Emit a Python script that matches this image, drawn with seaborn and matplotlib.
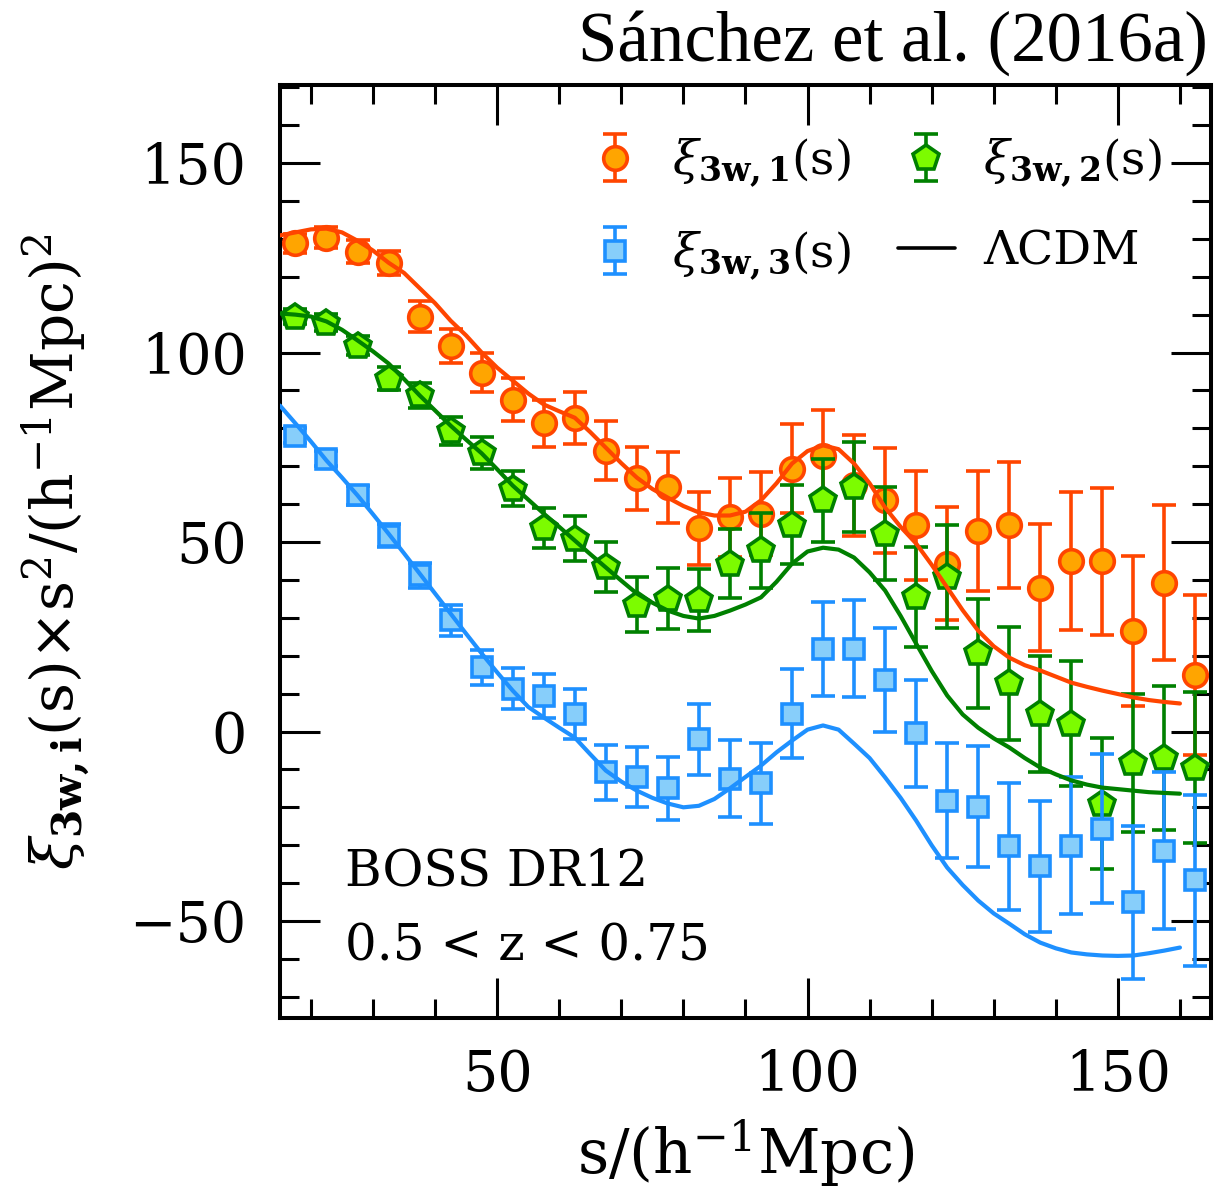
import matplotlib
matplotlib.use("Agg")
import matplotlib.pyplot as plt
from matplotlib.lines import Line2D
from matplotlib.ticker import MultipleLocator
import seaborn as sns

# Separation bins (h^-1 Mpc)
s = [17.5, 22.5, 27.5, 32.5, 37.5, 42.5, 47.5, 52.5, 57.5, 62.5,
     67.5, 72.5, 77.5, 82.5, 87.5, 92.5, 97.5, 102.5, 107.5, 112.5,
     117.5, 122.5, 127.5, 132.5, 137.5, 142.5, 147.5, 152.5, 157.5, 162.5]

# Measured wedges  s^2 * xi_{3w,i}(s)
xi1 = [128.8, 130.3, 126.6, 123.7, 109.5, 101.8, 94.7, 87.6, 81.3, 82.8,
       74.1, 66.8, 64.4, 53.6, 56.5, 57.5, 69.4, 72.8, 65.0, 61.0,
       54.4, 44.3, 53.0, 54.4, 38.0, 45.1, 44.9, 26.6, 39.3, 15.0]
err1 = [2.5, 2.8, 3.0, 3.2, 4.0, 4.5, 5.1, 5.6, 6.1, 6.9,
        7.8, 8.3, 9.4, 9.6, 10.5, 11.0, 11.8, 12.1, 13.3, 13.9,
        14.4, 15.0, 15.8, 16.6, 16.8, 18.2, 19.4, 19.8, 20.4, 21.1]

xi2 = [109.5, 107.9, 101.8, 93.1, 88.7, 79.4, 73.6, 64.1, 53.8, 50.9,
       43.3, 33.5, 35.1, 34.8, 44.3, 47.8, 54.6, 61.0, 64.6, 52.2,
       35.6, 40.9, 20.6, 12.7, 4.7, 2.1, -19.0, -8.2, -6.9, -9.5]
err2 = [2.0, 2.2, 2.5, 3.0, 3.3, 3.7, 4.2, 4.7, 5.3, 5.9,
        6.6, 7.3, 8.0, 8.2, 9.1, 9.8, 10.4, 11.0, 11.9, 12.3,
        13.2, 13.7, 14.5, 15.0, 15.3, 16.6, 17.3, 18.2, 19.0, 20.0]

xi3 = [78.1, 72.0, 62.3, 51.7, 41.2, 29.3, 16.9, 11.3, 9.5, 4.7,
       -10.8, -12.1, -15.0, -2.1, -12.4, -13.7, 4.7, 21.9, 21.9, 13.7,
       -0.5, -18.2, -19.8, -30.3, -35.6, -30.1, -25.6, -45.1, -31.4, -39.3]
err3 = [2.0, 2.0, 2.5, 3.0, 3.2, 4.0, 4.6, 5.4, 5.8, 6.6,
        7.3, 7.9, 8.4, 9.4, 10.2, 10.6, 11.7, 12.4, 12.8, 13.7,
        14.1, 15.2, 16.0, 16.8, 17.4, 18.1, 19.7, 20.2, 20.8, 22.6]

# LambdaCDM model predictions
s_model = [15.0, 17.5, 20.0, 22.5, 25.0, 27.5, 30.0, 32.5, 35.0, 37.5,
           40.0, 42.5, 45.0, 47.5, 50.0, 52.5, 55.0, 57.5, 60.0, 62.5,
           65.0, 67.5, 70.0, 72.5, 75.0, 77.5, 80.0, 82.5, 85.0, 87.5,
           90.0, 92.5, 95.0, 97.5, 100.0, 102.5, 105.0, 107.5, 110.0, 112.5,
           115.0, 117.5, 120.0, 122.5, 125.0, 127.5, 130.0, 132.5, 135.0, 137.5,
           140.0, 142.5, 145.0, 147.5, 150.0, 152.5, 155.0, 157.5, 160.0]
model1 = [130.9, 131.7, 132.5, 132.7, 131.7, 129.5, 126.9, 123.7, 121.0, 117.0,
          113.0, 108.4, 104.5, 100.0, 96.0, 92.6, 89.2, 86.3, 84.5, 82.8,
          79.0, 74.9, 70.8, 67.0, 64.0, 61.7, 59.5, 57.8, 57.0, 57.0,
          58.0, 61.0, 65.5, 70.7, 74.0, 75.5, 74.5, 70.7, 65.5, 59.1,
          54.0, 49.6, 44.0, 38.0, 32.0, 26.6, 22.5, 19.5, 17.5, 16.1,
          14.5, 12.9, 11.8, 10.8, 9.9, 9.0, 8.3, 7.8, 7.4]
model2 = [110.3, 110.0, 109.5, 108.2, 106.0, 103.2, 100.3, 97.1, 93.0, 88.7,
          84.7, 80.7, 77.0, 73.4, 69.2, 64.9, 61.2, 57.5, 54.0, 50.4,
          46.8, 43.3, 39.8, 36.4, 34.0, 31.9, 30.5, 29.8, 30.5, 31.9,
          33.5, 35.4, 39.5, 44.3, 47.5, 48.5, 48.0, 45.9, 42.0, 37.2,
          30.5, 23.2, 16.0, 9.5, 4.5, 1.0, -1.8, -4.2, -7.0, -9.5,
          -11.3, -12.9, -14.0, -14.8, -15.2, -15.6, -16.0, -16.2, -16.4]
model3 = [86.0, 81.3, 76.5, 71.5, 67.0, 62.3, 57.3, 52.2, 47.0, 41.7,
          36.4, 31.1, 25.8, 20.6, 15.6, 10.8, 6.5, 3.7, 1.0, -1.6,
          -6.0, -10.3, -13.2, -15.6, -17.5, -19.0, -20.0, -19.6, -17.8, -15.0,
          -12.0, -9.0, -5.5, -2.4, 0.5, 1.6, 0.5, -3.2, -7.0, -12.1,
          -17.5, -23.5, -30.0, -35.9, -40.5, -44.6, -48.0, -50.7, -53.5, -55.7,
          -57.2, -58.3, -58.8, -59.1, -59.2, -59.1, -58.5, -57.8, -57.0]

labels = [r"$\xi_{\mathbf{3w,1}}(\mathrm{s})$",
          r"$\xi_{\mathbf{3w,2}}(\mathrm{s})$",
          r"$\xi_{\mathbf{3w,3}}(\mathrm{s})$"]

sns.set_theme(style="ticks")
plt.rcParams["font.family"] = ["DejaVu Serif"]
plt.rcParams["mathtext.fontset"] = "dejavuserif"
plt.rcParams["axes.edgecolor"] = "black"
plt.rcParams["xtick.color"] = "black"
plt.rcParams["ytick.color"] = "black"
plt.rcParams["text.color"] = "black"
plt.rcParams["axes.labelcolor"] = "black"

fig = plt.figure(figsize=(12.14, 11.90), dpi=100)
ax = fig.add_axes([0.2306, 0.1445, 0.7669, 0.7841])

styles = [
    (xi1, err1, "o", "#FFA500", "#FF4500", 17),
    (xi2, err2, "p", "#7CFC00", "#008000", 19),
    (xi3, err3, "s", "#87CEFA", "#1E90FF", 15),
]
handles = []
for k, (y, e, mk, fc, ec, ms) in enumerate(styles):
    h = ax.errorbar(s, y, yerr=e, fmt=mk, ms=ms, mfc=fc, mec=ec, mew=2.6,
                    ecolor=ec, elinewidth=2.6, capsize=8.5, capthick=2.6,
                    zorder=2 + k)
    handles.append(h)

line_colors = ["#FF4500", "#008000", "#1E90FF"]
for m, c in zip([model1, model2, model3], line_colors):
    sns.lineplot(x=s_model, y=m, color=c, lw=3.0, ax=ax, zorder=6)

lcdm = Line2D([], [], color="black", lw=2.6)

ax.set_xlim(15, 165)
ax.set_ylim(-75.6, 170.6)
ax.xaxis.set_major_locator(MultipleLocator(50))
ax.xaxis.set_minor_locator(MultipleLocator(10))
ax.yaxis.set_major_locator(MultipleLocator(50))
ax.yaxis.set_minor_locator(MultipleLocator(10))
ax.tick_params(which="both", direction="in", top=True, right=True,
               width=2.2, colors="black")
ax.tick_params(which="major", length=29)
ax.tick_params(which="minor", length=14)
ax.tick_params(axis="y", which="major", labelsize=40, pad=24)
ax.tick_params(axis="x", which="major", labelsize=40, pad=22)
for sp in ax.spines.values():
    sp.set_linewidth(2.9)
    sp.set_color("black")

ax.set_xlabel(r"s/(h$^{-1}$Mpc)", fontsize=44, labelpad=10)
ax.set_ylabel(r"$\xi_{\mathbf{3w,i}}$(s)$\times$s$^{2}$/(h$^{-1}$Mpc)$^{2}$",
              fontsize=42, labelpad=26)

ax.legend([handles[0], handles[2], handles[1], lcdm],
          [labels[0], labels[2], labels[1], "ΛCDM"],
          ncol=2, loc="upper right", bbox_to_anchor=(0.993, 0.99),
          frameon=False, fontsize=34, handlelength=1.2, handletextpad=0.6,
          columnspacing=1.0, labelspacing=0.85)

ax.text(0.07, 0.1425, "BOSS DR12", transform=ax.transAxes,
        fontsize=36, ha="left", va="baseline")
ax.text(0.07, 0.062, "0.5 < z < 0.75", transform=ax.transAxes,
        fontsize=36, ha="left", va="baseline")

fig.text(0.995, 0.964, "Sánchez et al. (2016a)", ha="right", va="center",
         fontsize=51, family=["Liberation Serif", "DejaVu Serif"])

fig.savefig("out.png", dpi=100)
